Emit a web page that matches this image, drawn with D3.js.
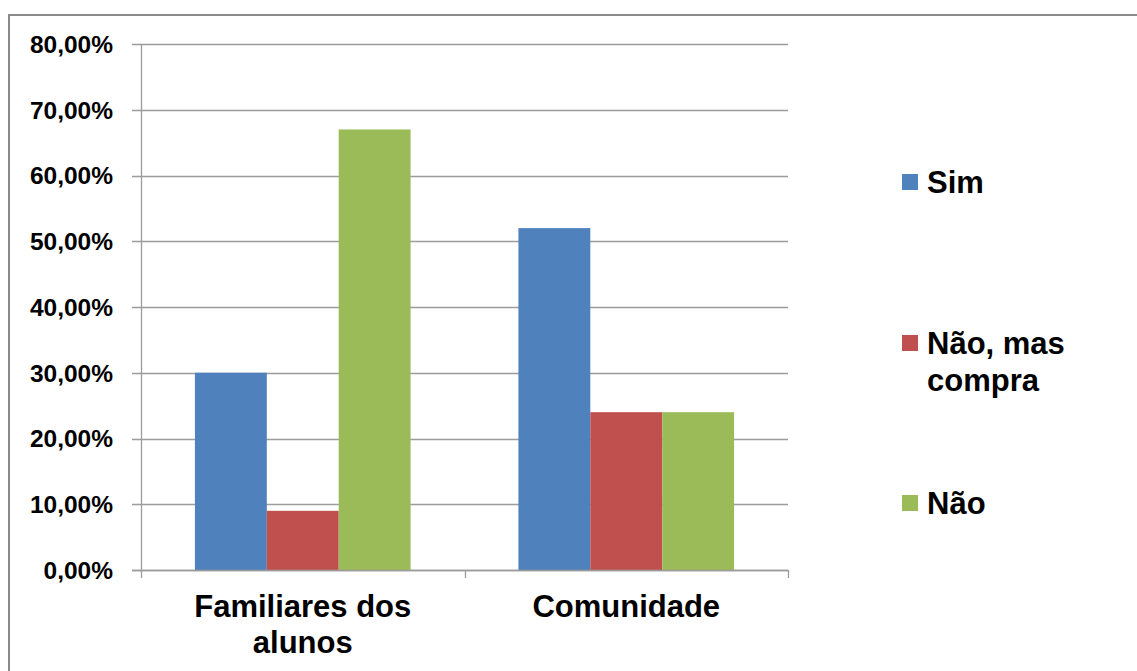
<!DOCTYPE html>
<html>
<head>
<meta charset="utf-8">
<script src="https://cdn.jsdelivr.net/npm/d3@7"></script>
<style>
  html, body { margin: 0; padding: 0; background: #fff; }
  svg { display: block; }
  text { font-family: "Liberation Sans", Arial, sans-serif; font-weight: bold; fill: #000; }
</style>
</head>
<body>
<svg id="chart" width="1137" height="671"></svg>
<script>
// Categories (each may wrap onto several lines)
const categories = ["Familiares dos alunos", "Comunidade"];
const categoryLines = [["Familiares dos", "alunos"], ["Comunidade"]];

// Series names and legend lines
const seriesNames = ["Sim", "Não, mas compra", "Não"];
const legendLines = [["Sim"], ["Não, mas", "compra"], ["Não"]];
const seriesColors = ["#4f81bd", "#c0504d", "#9bbb59"];

// Values (percent) per series, in category order
const sim = [30, 52];
const naoMasCompra = [9, 24];
const nao = [67, 24];
const seriesValues = [sim, naoMasCompra, nao];

// Y axis ticks
const yTicks = [0, 10, 20, 30, 40, 50, 60, 70, 80];

const svg = d3.select("#chart");

// Outer chart frame
svg.append("rect")
  .attr("x", 9).attr("y", 15)
  .attr("width", 1140).attr("height", 700)
  .attr("fill", "none")
  .attr("stroke", "#8a8a8a")
  .attr("stroke-width", 2);

const plot = { left: 141, right: 788, top: 44, bottom: 570 };

const y = d3.scaleLinear().domain([0, 80]).range([plot.bottom, plot.top]);
const x0 = d3.scaleBand().domain(categories).range([plot.left, plot.right]).padding(0);
const x1 = d3.scaleBand().domain(seriesNames).range([0, x0.bandwidth()])
  .paddingInner(0).paddingOuter(0.75);

const fmt = v => d3.format(".2f")(v).replace(".", ",") + "%";

// Gridlines with left tick marks
svg.append("g").selectAll("line").data(yTicks).join("line")
  .attr("x1", plot.left - 9).attr("x2", plot.right)
  .attr("y1", d => Math.round(y(d)) + 0.5).attr("y2", d => Math.round(y(d)) + 0.5)
  .attr("stroke", "#9c9c9c").attr("stroke-width", 1.3);

// Y tick labels
svg.append("g").selectAll("text").data(yTicks).join("text")
  .attr("x", 113).attr("y", d => y(d))
  .attr("dy", "0.36em")
  .attr("text-anchor", "end")
  .attr("font-size", 24.5)
  .text(fmt);

// Bars
const groups = svg.append("g").selectAll("g").data(categories).join("g")
  .attr("transform", c => `translate(${x0(c)},0)`);
groups.selectAll("rect")
  .data((c, ci) => seriesNames.map((s, si) => ({ s, v: seriesValues[si][ci], si })))
  .join("rect")
  .attr("x", d => x1(d.s))
  .attr("width", x1.bandwidth())
  .attr("y", d => y(d.v))
  .attr("height", d => y(0) - y(d.v))
  .attr("fill", d => seriesColors[d.si]);

// Y axis line
svg.append("line")
  .attr("x1", plot.left + 0.5).attr("x2", plot.left + 0.5)
  .attr("y1", plot.top).attr("y2", plot.bottom)
  .attr("stroke", "#9c9c9c").attr("stroke-width", 1.3);

// X axis line and category boundary ticks
svg.append("line")
  .attr("x1", plot.left - 9).attr("x2", plot.right)
  .attr("y1", plot.bottom + 0.5).attr("y2", plot.bottom + 0.5)
  .attr("stroke", "#9c9c9c").attr("stroke-width", 1.3);
const boundaries = categories.map(c => x0(c)).concat([x0.range()[1]]);
svg.append("g").selectAll("line").data(boundaries).join("line")
  .attr("x1", d => Math.round(d) + 0.5).attr("x2", d => Math.round(d) + 0.5)
  .attr("y1", plot.bottom).attr("y2", plot.bottom + 8)
  .attr("stroke", "#9c9c9c").attr("stroke-width", 1.3);

// Category labels
svg.append("g").selectAll("text").data(categories).join("text")
  .attr("text-anchor", "middle")
  .attr("font-size", 31)
  .attr("x", c => x0(c) + x0.bandwidth() / 2)
  .attr("y", 617)
  .each(function(c, i) {
    d3.select(this).selectAll("tspan").data(categoryLines[i]).join("tspan")
      .attr("x", x0(c) + x0.bandwidth() / 2)
      .attr("dy", (d, j) => j === 0 ? 0 : 36)
      .text(d => d);
  });

// Legend
const legendY = [193, 354, 514];
const legend = svg.append("g").selectAll("g").data(seriesNames).join("g")
  .attr("transform", (d, i) => `translate(0,${legendY[i]})`);
legend.append("rect")
  .attr("x", 902).attr("y", -19)
  .attr("width", 16).attr("height", 16)
  .attr("fill", (d, i) => seriesColors[i]);
legend.append("text")
  .attr("x", 927).attr("y", 0)
  .attr("font-size", 31)
  .each(function(d, i) {
    d3.select(this).selectAll("tspan").data(legendLines[i]).join("tspan")
      .attr("x", 927)
      .attr("dy", (t, j) => j === 0 ? 0 : 36.5)
      .text(t => t);
  });
</script>
</body>
</html>
